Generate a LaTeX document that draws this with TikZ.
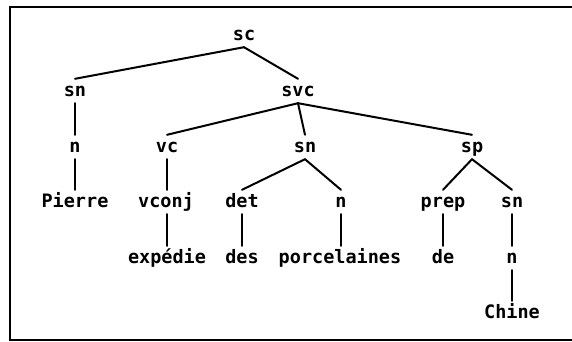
\documentclass[tikz,border=0pt]{standalone}
\usepackage{fontspec}
\setmonofont{DejaVu Sans Mono}
\begin{document}
\begin{tikzpicture}[x=1pt,y=-1pt,
  cat/.style={font=\ttfamily\bfseries\fontsize{18.5}{20}\selectfont,
    inner xsep=1pt, inner ysep=7pt, text height=10pt, text depth=0pt},
  branch/.style={line width=2pt, line cap=round},
  frame/.style={line width=2pt}]
\useasboundingbox (0,0) rectangle (572,341);
% open frame: top, left and bottom rules
\draw[frame] (572,7) -- (10,7) -- (10,339.5) -- (572,339.5);

% level 0
\node[cat] (sc) at (244,35) {sc};
% level 1
\node[cat] (sn1) at (75,91) {sn};
\node[cat] (svc) at (298,91) {svc};
% level 2
\node[cat] (n1) at (75,147) {n};
\node[cat] (vc) at (167,147) {vc};
\node[cat] (sn2) at (305,147) {sn};
\node[cat] (sp) at (472,147) {sp};
% level 3
\node[cat] (pierre) at (75,202) {Pierre};
\node[cat] (vconj) at (166,202) {vconj};
\node[cat] (det) at (242,202) {det};
\node[cat] (n2) at (341,202) {n};
\node[cat] (prep) at (443,202) {prep};
\node[cat] (sn3) at (512,202) {sn};
% level 4
\node[cat] (exp) at (167,258) {expédie};
\node[cat] (des) at (242,258) {des};
\node[cat] (porc) at (340,258) {porcelaines};
\node[cat] (de) at (443,258) {de};
\node[cat] (n3) at (512,258) {n};
% level 5
\node[cat] (chine) at (512,313) {Chine};

% branches
\draw[branch] (sc.south) -- (sn1.north);
\draw[branch] (sc.south) -- (svc.north);
\draw[branch] (sn1.south) -- (n1.north);
\draw[branch] (svc.south) -- (vc.north);
\draw[branch] (svc.south) -- (sn2.north);
\draw[branch] (svc.south) -- (sp.north);
\draw[branch] (n1.south) -- (n1.south |- pierre.north);
\draw[branch] (vc.south) -- (vc.south |- vconj.north);
\draw[branch] (sn2.south) -- (det.north);
\draw[branch] (sn2.south) -- (n2.north);
\draw[branch] (sp.south) -- (prep.north);
\draw[branch] (sp.south) -- (sn3.north);
\draw[branch] (vconj.south -| exp.north) -- (exp.north);
\draw[branch] (det.south) -- (des.north);
\draw[branch] (n2.south) -- (n2.south |- porc.north);
\draw[branch] (prep.south) -- (de.north);
\draw[branch] (sn3.south) -- (n3.north);
\draw[branch] (n3.south) -- (chine.north);
\end{tikzpicture}
\end{document}
